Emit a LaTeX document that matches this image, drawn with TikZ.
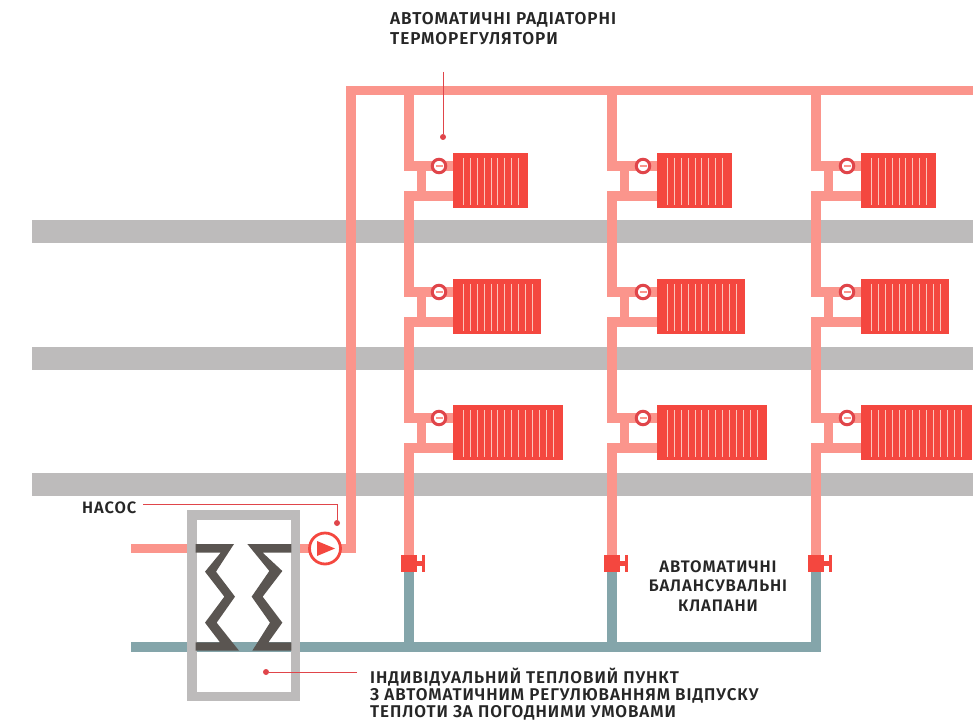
\documentclass[tikz,border=0pt]{standalone}
\usepackage{fontspec}
\setmainfont{Fira Sans}[UprightFont=* SemiBold,BoldFont=* Bold,LetterSpace=5.5]
\definecolor{pipered}{HTML}{FB958C}
\definecolor{piperet}{HTML}{84A5AA}
\definecolor{radred}{HTML}{F4473F}
\definecolor{band}{HTML}{BDBBBB}
\definecolor{coil}{HTML}{5A5551}
\definecolor{lead}{HTML}{E0454A}
\definecolor{finc}{HTML}{FBC4BA}
\tikzset{
 hot/.style={draw=pipered,line width=9.5pt,line cap=butt,line join=miter},
 ret/.style={draw=piperet,line width=9.5pt},
 floorband/.style={fill=band,draw=none},
 radbody/.style={fill=radred,draw=none},
 fin/.style={draw=finc,line width=1pt},
 leader/.style={draw=lead,line width=1pt},
 leaddot/.style={circle,fill=lead,inner sep=0pt,minimum size=6pt},
 label/.style={font=\fontsize{16.5pt}{19pt}\selectfont,text=black!85,align=left,inner sep=0pt},
 frame/.style={draw=band,line width=9.5pt},
 valvering/.style={circle,draw=lead,line width=3pt,fill=white,minimum size=13.5pt,inner sep=0pt},
}
\begin{document}
\begin{tikzpicture}[x=1pt,y=-1pt]
\useasboundingbox (0,0) rectangle (973,722);
\fill[white] (0,0) rectangle (973,722);
% floors
\fill[floorband] (32,220) rectangle (973,243);
\fill[floorband] (32,347) rectangle (973,370);
\fill[floorband] (32,473) rectangle (973,496);
% return main
\coordinate (retstart) at (131,647);
\coordinate (retend) at (820.75,647);
\draw[ret] (retstart) -- (retend);
% supply
\coordinate (inlet) at (131,548.5);
\coordinate (riserfoot) at (351,548.5);
\coordinate (risertop) at (351,90.5);
\coordinate (mainend) at (973,90.5);
\draw[hot] (inlet) -- (187,548.5);
\draw[hot] (300,548.5) -- (riserfoot) -- (risertop) -- (mainend);
% columns
\foreach \col/\cx/\vx/\rx/\wa/\wb/\wc in {a/409/439/453/75/88/110, b/612/643/657/75/88/110, c/816/847/861/75/88/111}{
  \coordinate (top\col) at (\cx,90.5);
  \coordinate (foot\col) at (\cx,563);
  \draw[hot] (top\col) -- (\cx,170.75);
  \draw[hot] (\cx,191.25) -- (\cx,296.75);
  \draw[hot] (\cx,317.25) -- (\cx,422.75);
  \draw[hot] (\cx,443.25) -- (foot\col);
  \foreach \row/\yy/\w in {1/153/\wa, 2/279/\wb, 3/405/\wc}{
    \pgfmathsetmacro{\ya}{\yy+13}
    \pgfmathsetmacro{\yb}{\yy+43}
    \pgfmathsetmacro{\xl}{\cx+12.5}
    \pgfmathsetmacro{\rend}{\rx+\w}
    \draw[hot] (\cx-4.75,\ya) -- (\rx,\ya);
    \draw[hot] (\xl,\ya-4.75) -- (\xl,\yb);
    \draw[hot] (\cx-4.75,\yb) -- (\rx,\yb);
    \fill[radbody] (\rx,\yy) rectangle (\rend,\yy+55);
    \pgfmathsetmacro{\first}{\rx+10.4}
    \pgfmathsetmacro{\second}{\rx+17.3}
    \foreach \fx in {\first,\second,...,\rend}{
      \pgfmathparse{\fx<\rend-6?1:0}
      \ifnum\pgfmathresult=1 \draw[fin] (\fx,\yy+5) -- (\fx,\yy+52); \fi
    }
    \node[valvering] (valve\col\row) at (\vx,\ya) {};
    \fill[pipered] (\vx-3.5,\ya-1) rectangle (\vx+3.5,\ya+1);
  }
  \draw[ret] (foot\col) -- (\cx,651.75);
  \fill[radred] (\cx-8,555) rectangle (\cx+8,572);
  \fill[radred] (\cx+8,561) rectangle (\cx+14,566);
  \fill[radred] (\cx+13,555) rectangle (\cx+16,572);
}
% heat exchanger
\draw[frame] (191.75,514.75) rectangle (295.25,696.25);
\begin{scope}[shift={(190,535)},x=0.33333pt,y=-0.33333pt]
\fill[coil] (17,27)--(132,27)--(78,110)--(135,185)--(80,263)--(147,347)--(17,347)--(17,322)--(90,322)--(45,263)--(103,185)--(45,110)--(92,53)--(17,53)--cycle;
\fill[coil] (304,27)--(172,27)--(238,108)--(185,185)--(240,263)--(187,347)--(304,347)--(304,322)--(235,322)--(277,263)--(218,185)--(277,108)--(218,53)--(304,53)--cycle;
\end{scope}
% pump
\node[circle,draw=radred,line width=2.8pt,fill=white,minimum size=31pt,inner sep=0pt] (pump) at (325,548.5) {};
\fill[radred] (317,541) -- (335,548.5) -- (317,556) -- cycle;
% labels
\node[label,anchor=north west,font=\fontsize{17.2pt}{19.5pt}\selectfont] (lblthermo) at (390,12.5) {АВТОМАТИЧНІ РАДІАТОРНІ\\ТЕРМОРЕГУЛЯТОРИ};
\node[label,anchor=west] (lblpump) at (82,507.5) {НАСОС};
\node[label,align=center,font=\fontsize{16.7pt}{19.5pt}\selectfont] (lblbal) at (718,586) {АВТОМАТИЧНІ\\БАЛАНСУВАЛЬНІ\\КЛАПАНИ};
\node[label,anchor=north west,font=\fontsize{17pt}{17pt}\selectfont] (lblpoint) at (370,667.5) {ІНДИВІДУАЛЬНИЙ ТЕПЛОВИЙ ПУНКТ\\З АВТОМАТИЧНИМ РЕГУЛЮВАННЯМ ВІДПУСКУ\\ТЕПЛОТИ ЗА ПОГОДНИМИ УМОВАМИ};
% leaders
\node[leaddot] (dotthermo) at (443,137) {};
\node[leaddot] (dotpump) at (337,523) {};
\node[leaddot] (dotpoint) at (266,672) {};
\coordinate (leadA) at (443,72);
\coordinate (leadB) at (143,504);
\coordinate (leadC) at (357,672);
\draw[leader] (leadA) -- (dotthermo);
\draw[leader] (leadB) -| (dotpump);
\draw[leader] (leadC) -- (dotpoint);
\end{tikzpicture}
\end{document}
